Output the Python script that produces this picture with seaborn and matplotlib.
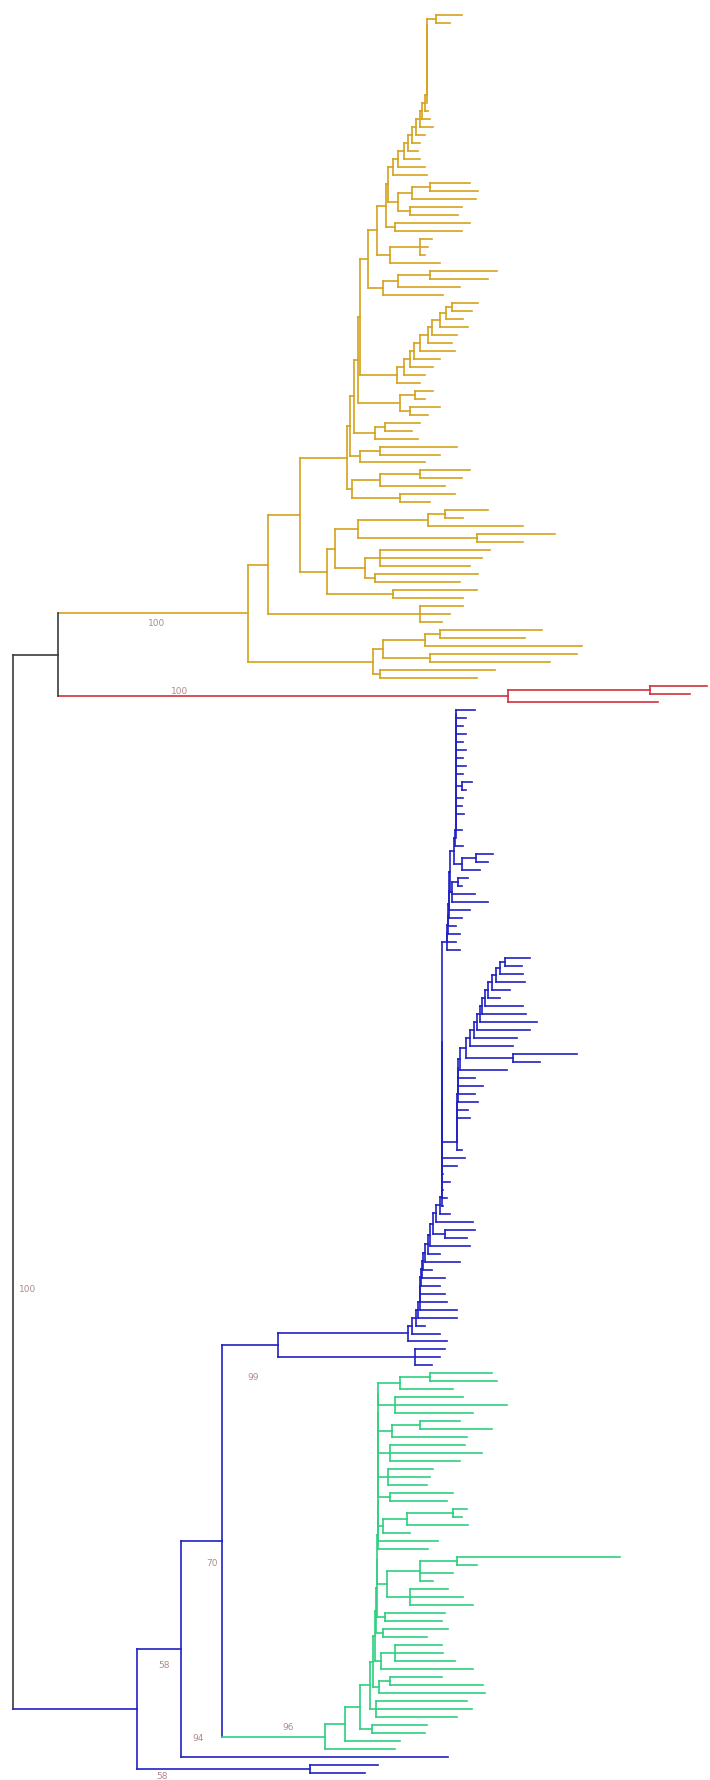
import matplotlib
matplotlib.use("Agg")
import matplotlib.pyplot as plt
import pandas as pd
import seaborn as sns


def ladder(sides, spine):
    """Caterpillar clade, root at the bottom: sides listed top to bottom,
    spine[k] is the depth of the node joining everything above with sides[k+1]."""
    node = sides[0]
    for depth, side in zip(spine, sides[1:]):
        node = [depth, node, side]
    return node


# node = [depth, child, child, ...]; leaf = tip depth (branch length units x 1000)

# ---- yellow clade ----
fan_a = [398, [412, [430, 470, 478], 476], [410, 462, 458]]
sub_b = [390, [420, 432, 428, 425], 440]
sub_c = [383, [398, [430, 497, 488], 460], 443]
sub_e = ladder([478, 472, 463, 468, 457, 452, 455, 440, 433, 425, 420],
               [452, 446, 440, 432, 428, 420, 414, 410, 404, 397])
sub_f = [400, [415, 433, 425], [410, 440, 428]]
sub_g = [375, [385, 420, 412], 418]
sub_h = [360, [380, 457, 440], 425]
sub_i = [352, [380, [420, 470, 462], 445], [400, 455, 430]]

ytop_sides = [[436, 462, 450],
              427, 427, 427, 427, 427, 427, 427, 427, 427, 427,
              428, 430, 433, 425, 420, 418, 420, 425, 427,
              fan_a, [395, 470, 462], sub_b, sub_c, sub_e,
              sub_f, sub_g, sub_h, sub_i]
ytop_spine = [427, 427, 427, 427, 427, 427, 427, 427, 427, 427,
              425, 422, 420, 416, 412, 408, 404, 398, 393,
              388, 386, 377, 368, 360, 358, 354, 350, 347]
y_top = ladder(ytop_sides, ytop_spine)
y_mid = [327, [335, [358, [428, [445, 488, 463], 523], [477, 555, 523]],
               [365, [380, 490, 482, 470], [375, 478, 460]]],
         [393, 477, 463]]
y_small = [420, 463, 450, 442]
y_low = [373, [383, [425, [440, 542, 525], 582], [430, 577, 550]], [380, 495, 477]]
yellow = [248, [268, [300, y_top, y_mid], y_small], y_low]

# ---- red clade ----
red = [508, [650, 707, 690], 658]

# ---- blue clade ----
btop_sides = [475, 466, 463, 466, 463, 466, 463, 466, 463, [462, 472, 466],
              463, 462, 464, 456, 462, 456, 463,
              [462, [476, 493, 488], 480], [452, [458, 468, 462], 475, 488],
              470, 462, 456, 460, 456, 460]
btop_spine = [456, 456, 456, 456, 456, 456, 456, 456, 456, 456, 456, 456,
              456, 456, 456, 455, 454, 450, 449, 449, 448, 448, 447, 447]
bmid_sides = [530, 522, 523, 525, 510, 500, 523, 526, 537, 530, 517, 513,
              [513, 577, 540], 507]
bmid_spine = [505, 500, 496, 492, 488, 485, 482, 480, 477, 474, 470, 466, 460]
bgrp_sides = [ladder(bmid_sides, bmid_spine),
              475, 483, 475, 478, 468, 470, 457, 457, 457, 462]
bgrp_spine = [458, 458, 458, 458, 457, 457, 457, 457, 457, 457]
blow_sides = [465, 457, 443, 450, 443, 447, 443, 450, 473, [445, 475, 467],
              470, 440, 460, 432, 445, 440, 445, 447, 457, 457, 425, 440, 447]
bbig_spine = [442, 442, 442, 442, 442, 442, 442, 442, 440, 436, 433, 430,
              428, 425, 423, 422, 421, 420, 420, 420, 418, 416, 412, 408]
blue_big = ladder([ladder(btop_sides, btop_spine), ladder(bgrp_sides, bgrp_spine)]
                  + blow_sides, bbig_spine)
blue_small = [415, 445, 440, 432]

# ---- green clade ----
green_sides = [[400, [430, 492, 497], 453], [395, 463, 507, 473],
               [392, [420, 460, 492], 467], [390, 465, 482, 460],
               [388, 433, 430, 427], [390, 453, 447],
               [383, [407, [453, 467, 462], 468], 410], 438, 428,
               [387, [420, [457, 620, 477], 453, 433], [410, 448, 463, 473]],
               [385, 445, 442], [383, 448, 427], [381, [395, 442, 443, 455], 473],
               [379, [390, 442, 483], 485], [376, 467, 472, 457], [372, 427, 425],
               400, 395]
green_spine = [378, 378, 378, 378, 378, 378, 378, 378, 377, 377, 376, 375,
               373, 370, 360, 345, 325]
green = ladder(green_sides, green_spine)

node_b = [137, [181, [222, [278, blue_big, blue_small], green], 448], [310, 378, 365]]
root = [13, [58, yellow, red], node_b]

clade_of = {id(yellow): "yellow", id(red): "red", id(node_b): "blue", id(green): "green"}
palette = {"root": "#3c3c3c", "yellow": "#D6A21E", "red": "#D2303C",
           "blue": "#2020C4", "green": "#2ED07E"}

supports = ["100", "100", "100", "99", "70", "58", "94", "96", "58"]

# ---- layout: leaves evenly spaced, node at midpoint of first/last child ----
rows = []
leaf_count = [0]


def walk(node, parent_x, clade):
    clade = clade_of.get(id(node), clade)
    if isinstance(node, list):
        x = node[0]
        ys = [walk(c, x, clade) for c in node[1:]]
        y = (ys[0] + ys[-1]) / 2
        if ys[-1] != ys[0]:
            rows.append((x, ys[0], x, ys[-1], clade))
    else:
        x = node
        y = leaf_count[0]
        leaf_count[0] += 1
    if x != parent_x:
        rows.append((parent_x, y, x, y, clade))
    return y


walk(root, root[0], "root")
n_leaves = leaf_count[0]

recs = []
for i, (x0, y0, x1, y1, c) in enumerate(rows):
    recs.append({"seg": i, "x": x0, "y": y0, "clade": c})
    recs.append({"seg": i, "x": x1, "y": y1, "clade": c})
df = pd.DataFrame(recs)

sns.set_style("white")
W, H = 710, 1781
fig = plt.figure(figsize=(W / 100, H / 100), dpi=100)
ax = fig.add_axes([0, 0, 1, 1])
sns.lineplot(data=df, x="x", y="y", units="seg", estimator=None, hue="clade",
             palette=palette, sort=False, legend=False, linewidth=1.2,
             solid_capstyle="projecting", ax=ax)

top_px, bot_px = 16, 1774
step = (bot_px - top_px) / (n_leaves - 1)
ax.set_xlim(0, W)
ax.set_ylim((H - top_px) / step, -top_px / step)
ax.axis("off")

# support values, placed beside their branches (figure pixels)
label_pos = [(157, 624), (180, 692), (28, 1290), (253, 1378), (212, 1564),
             (164, 1666), (198, 1739), (288, 1728), (162, 1777)]
for txt, (px, py) in zip(supports, label_pos):
    fig.text(px / W, 1 - py / H, txt, ha="center", va="center",
             fontsize=6.5, color="#b08a8a")

fig.savefig("out.png", dpi=100, facecolor="white")
